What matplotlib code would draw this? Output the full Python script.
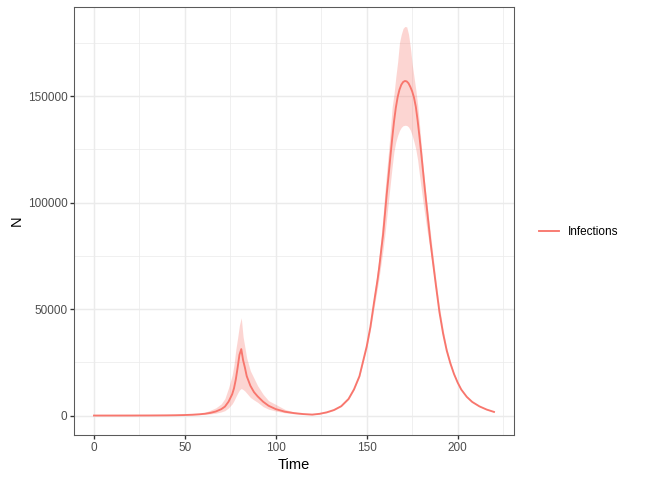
import matplotlib.pyplot as plt
from matplotlib.lines import Line2D

# Time points (days)
time = [0, 10, 20, 30, 40, 45, 50, 54, 58, 61,
        64, 67, 70, 72, 74, 76, 77, 78, 79, 80,
        81, 82, 83, 84, 86, 88, 90, 93, 96, 100,
        105, 110, 115, 120, 124, 128, 132, 136, 140, 143,
        146, 148, 150, 152, 154, 156, 157, 158, 159, 160,
        161, 162, 163, 164, 165, 166, 167, 168, 169, 170,
        171, 172, 173, 174, 175, 176, 177, 178, 179, 180,
        181, 182, 183, 184, 185, 186, 188, 190, 192, 194,
        196, 198, 200, 202, 205, 208, 212, 216, 220]

# Mean number of infections
infections = [0, 5, 15, 35, 90, 150, 250, 380, 600, 850,
              1250, 1900, 3000, 4200, 6500, 10000, 12800, 17000, 22500, 28500,
              31200, 26000, 22500, 18500, 14000, 11000, 9000, 6500, 4600, 3000,
              1800, 1150, 700, 450, 800, 1500, 2600, 4400, 7800, 12300,
              18500, 25500, 32500, 41500, 53000, 64000, 70500, 78000, 85000, 94500,
              104000, 112500, 121500, 130000, 138000, 144500, 149500, 153000, 155300, 156600,
              157100, 156900, 156000, 154300, 152200, 149300, 145000, 138500, 131000, 123000,
              114500, 106000, 98000, 90000, 82000, 75000, 61500, 48500, 38500, 30500,
              24500, 19500, 15500, 12200, 8800, 6400, 4300, 2800, 1700]

# Lower and upper bounds of the ribbon
lower = [0, 4, 12, 28, 70, 115, 190, 280, 420, 560,
         780, 1100, 1700, 2300, 3600, 5500, 7000, 8800, 10500, 12000,
         12700, 12200, 11500, 10500, 8500, 7300, 6200, 4200, 3000, 2100,
         1300, 850, 520, 350, 700, 1350, 2450, 4250, 7500, 12000,
         18000, 24800, 31500, 40000, 50500, 60500, 66000, 72000, 78000, 85000,
         93000, 101000, 109000, 117000, 124000, 128500, 131500, 133800, 135300, 136100,
         136300, 136200, 135500, 134000, 131500, 128500, 125000, 120000, 113000, 106500,
         100000, 94000, 88000, 82500, 77000, 71000, 58500, 46500, 37000, 29300,
         23600, 18900, 15100, 11900, 8600, 6250, 4200, 2740, 1660]

upper = [0, 7, 20, 45, 120, 200, 340, 530, 850, 1500,
         2500, 3600, 5500, 8000, 13000, 19000, 24000, 31000, 36500, 42500,
         45900, 37000, 32000, 27000, 21000, 17500, 14000, 10000, 7000, 5200,
         2900, 1650, 950, 600, 950, 1700, 2800, 4600, 8200, 12700,
         19000, 26500, 34000, 43800, 56500, 69000, 76000, 85000, 94000, 105000,
         115000, 124000, 134000, 145000, 151000, 159000, 166000, 175000, 179000, 181800,
         182700, 182500, 179000, 173000, 165000, 159000, 153000, 146000, 137000, 127000,
         117000, 108500, 100500, 93000, 86000, 78500, 64000, 51000, 40500, 31800,
         25400, 20100, 15900, 12500, 9000, 6550, 4400, 2860, 1740]

xticks = [0, 50, 100, 150, 200]
yticks = [0, 50000, 100000, 150000]
series_name = 'Infections'
col = '#F8766D'

plt.rcParams['font.family'] = ['Liberation Sans', 'DejaVu Sans']

fig = plt.figure(figsize=(7, 5), dpi=96)
ax = fig.add_axes([74/672, 1 - 435/480, (514 - 74)/672, (435 - 7)/480])

# grid (minor then major)
for v in [25, 75, 125, 175, 225]:
    ax.axvline(v, color='#EBEBEB', lw=0.55, zorder=0)
for v in [25000, 75000, 125000, 175000]:
    ax.axhline(v, color='#EBEBEB', lw=0.55, zorder=0)
for v in xticks:
    ax.axvline(v, color='#EBEBEB', lw=1.07, zorder=0)
for v in yticks:
    ax.axhline(v, color='#EBEBEB', lw=1.07, zorder=0)

ax.fill_between(time, lower, upper, color=col, alpha=0.3, linewidth=0, zorder=2)
ax.plot(time, infections, color=col, lw=1.4, zorder=3)

xmin, xmax = min(time), max(time)
xr = xmax - xmin
ymin, ymax = 0, max(upper)
yr = ymax - ymin
ax.set_xlim(xmin - 0.05*xr, xmax + 0.05*xr)
ax.set_ylim(ymin - 0.05*yr, ymax + 0.05*yr)

ax.set_xticks(xticks)
ax.set_yticks(yticks)
ax.set_yticklabels([str(v) for v in yticks])
ax.tick_params(axis='both', labelsize=8.8, labelcolor='#4D4D4D', color='#333333',
               length=2.75, width=1.0, pad=2.2)
for s in ax.spines.values():
    s.set_color('#5A5A5A')
    s.set_linewidth(0.8)

ax.set_xlabel('Time', fontsize=11, labelpad=3)
ax.set_ylabel('N', fontsize=11, labelpad=3)

handle = Line2D([], [], color=col, lw=1.4)
fig.legend([handle], [series_name], loc='center left', frameon=False,
           bbox_to_anchor=(539/672, 1 - 232/480), borderaxespad=0, borderpad=0,
           fontsize=8.8, handlelength=1.7, handletextpad=0.8)

fig.savefig('out.png', dpi=96)
